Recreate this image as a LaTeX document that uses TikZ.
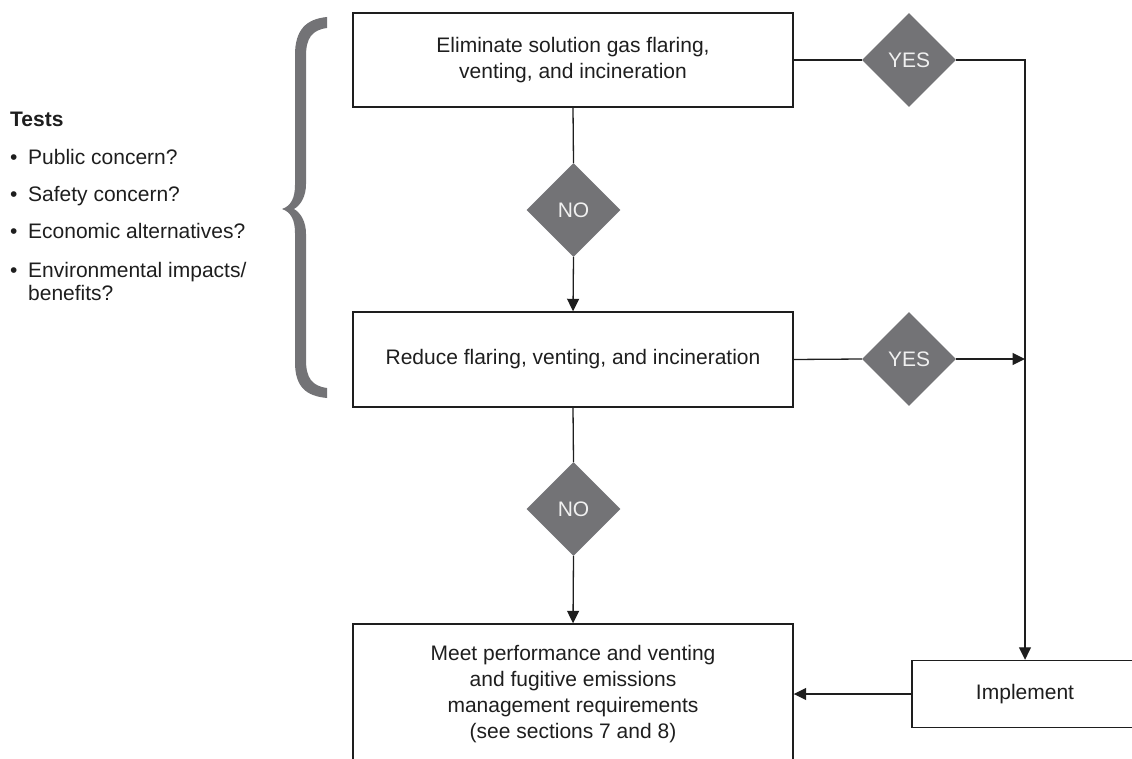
\documentclass[tikz,border=0pt]{standalone}
\usepackage{fontspec}
\setmainfont{Liberation Sans}
\usetikzlibrary{shapes.geometric,arrows.meta}
\definecolor{dgray}{HTML}{737376}
\definecolor{ink}{HTML}{1E1E1E}
\tikzset{
  box/.style={draw=ink, line width=1.4pt, rectangle, minimum width=440pt, align=center, inner sep=0pt, text=ink, font=\fontsize{21pt}{26pt}\selectfont},
  dec/.style={diamond, fill=dgray, draw=none, minimum width=94pt, minimum height=94pt, inner sep=0pt, text=white!94!black, font=\fontsize{21pt}{26pt}\selectfont},
  conn/.style={draw=ink, line width=1.3pt},
  arr/.style={conn, -{Triangle[length=12.5pt,width=12pt]}},
  lst/.style={anchor=base west, inner sep=0pt, text=ink, font=\fontsize{21pt}{23pt}\selectfont, align=left}
}
\begin{document}
\begin{tikzpicture}[x=1pt,y=-1pt]
\useasboundingbox (0,0) rectangle (1132,759);
\clip (0,0) rectangle (1132,759);
% boxes
\node[box, minimum height=94pt] (b1) at (573,60) {Eliminate solution gas flaring,\\venting, and incineration};
\node[box, minimum height=95pt] (b2) at (573,359.5) {Reduce flaring, venting, and incineration};
\node[box, minimum height=140pt] (b3) at (573,694) {Meet performance and venting\\and fugitive emissions\\management requirements\\(see sections 7 and 8)};
\node[box, minimum width=226pt, minimum height=67pt] (impl) at (1025,694) {Implement};
% decisions
\node[dec] (no1) at (573.5,210) {NO};
\node[dec] (no2) at (573.5,509) {NO};
\node[dec] (yes1) at (909,60) {YES};
\node[dec] (yes2) at (909,359) {YES};
\coordinate (c2) at (1025,359);
% connectors
\draw[conn] (b1.east) -- (yes1.west);
\draw[arr] (yes1.east) -| (impl.north);
\draw[conn] (b1.south) -- (no1.north);
\draw[arr] (no1.south) -- (b2.north);
\draw[conn] (b2.east) -- (yes2.west);
\draw[arr] (yes2.east) -- (c2);
\draw[conn] (b2.south) -- (no2.north);
\draw[arr] (no2.south) -- (b3.north);
\draw[arr] (impl.west) -- (b3.east);
% brace
\fill[dgray] (327,17) .. controls (306,19) and (295,30) .. (295,55)
  -- (295,185) .. controls (295,198) and (291,206) .. (282,209)
  .. controls (291,212) and (295,220) .. (295,233)
  -- (295,362) .. controls (295,387) and (306,396) .. (327,398)
  -- (327,388) .. controls (312,386) and (306,378) .. (306,360)
  -- (306,234) .. controls (306,222) and (301,213) .. (294,209)
  .. controls (301,205) and (306,196) .. (306,184)
  -- (306,56) .. controls (306,38) and (312,30) .. (327,28) -- cycle;
% tests
\node[lst, font=\bfseries\fontsize{21pt}{24pt}\selectfont] (t0) at (10,127) {Tests};
\node[lst] (t1) at (10,165) {\makebox[18pt][l]{•}Public concern?};
\node[lst] (t2) at (10,202) {\makebox[18pt][l]{•}Safety concern?};
\node[lst] (t3) at (10,239) {\makebox[18pt][l]{•}Economic alternatives?};
\node[lst] (t4) at (10,300) {\makebox[18pt][l]{•}Environmental impacts/\\\hspace*{18pt}benefits?};
\end{tikzpicture}
\end{document}
